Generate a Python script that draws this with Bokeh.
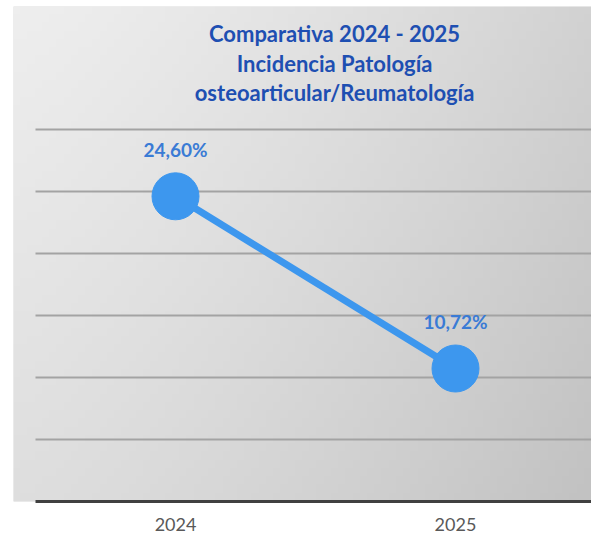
import numpy as np
from bokeh.plotting import figure
from bokeh.models import Range1d, FixedTicker, Label, ColumnDataSource, Grid
from bokeh.core.properties import value
from bokeh.embed import file_html
from bokeh.resources import INLINE

# ---- data ----
years = ["2024", "2025"]
incidence = [24.60, 10.72]
value_labels = ["24,60%", "10,72%"]
y_ticks = [0, 5, 10, 15, 20, 25, 30]
title_lines = ["Comparativa 2024 - 2025", "Incidencia Patología", "osteoarticular/Reumatología"]

xs = list(range(len(years)))

W, H = 591, 533
x0, x1 = -0.5786, 1.4857
y0, y1 = 0, 39.9

p = figure(width=W, height=H, output_backend="svg", toolbar_location=None,
           x_range=Range1d(x0, x1), y_range=Range1d(y0, y1),
           min_border_left=13, min_border_right=0, min_border_top=6, min_border_bottom=30)
p.border_fill_color = "white"
p.outline_line_color = None
p.background_fill_color = "#dddddd"

# gradient background (decoration)
ny, nx = 60, 80
fx = np.linspace(0, 1, nx)[None, :]
fy = np.linspace(0, 1, ny)[:, None]
g = (238 - 28 * fx ** 1.3 - 16 * (1 - fy)).clip(0, 255).astype(np.uint32)
img = (255 << 24) | (g << 16) | (g << 8) | g
p.image_rgba(image=[img.astype(np.uint32)], x=x0, y=y0, dw=x1 - x0, dh=y1 - y0, level="image")

# axes
p.yaxis.visible = False
p.xaxis.ticker = FixedTicker(ticks=xs)
p.xaxis.major_label_overrides = {i: y for i, y in enumerate(years)}
p.xaxis.bounds = (-0.5, x1)
p.xaxis.axis_line_color = "#404040"
p.xaxis.axis_line_width = 3
p.xaxis.major_tick_line_color = None
p.xaxis.minor_tick_line_color = None
p.xaxis.major_label_standoff = 10
p.xaxis.major_label_text_font = "Lato"
p.xaxis.major_label_text_font_size = "18px"
p.xaxis.major_label_text_color = "#595959"

p.xgrid.visible = False
p.ygrid.ticker = FixedTicker(ticks=y_ticks[1:])
p.ygrid.grid_line_color = "#a3a3a3"
p.ygrid.grid_line_width = 2
if "cross_bounds" in Grid.properties():
    p.ygrid.cross_bounds = (-0.5, x1)

src = ColumnDataSource(dict(x=xs, y=incidence, lab=value_labels))
p.line("x", "y", source=src, line_color="#3d97ee", line_width=7)
p.scatter("x", "y", source=src, size=47, fill_color="#3d97ee", line_color="#3d97ee")
p.text("x", "y", text="lab", source=src, y_offset=-47, text_align="center",
       text_baseline="middle", text_font=value("Lato"), text_font_style="bold",
       text_font_size="19px", text_color="#3a7bd5")

# title lines inside chart area (baselines in data units)
px_per_unit = 12.38
baselines_px = [33, 63, 92]
for t, b in zip(title_lines, baselines_px):
    p.add_layout(Label(x=0.568, y=(500 - b) / px_per_unit,
                       text=t, text_align="center", text_baseline="alphabetic",
                       text_font="Lato", text_font_style="bold", text_font_size="22px",
                       text_color="#1e4fb2"))

open("out.html", "w").write(file_html(p, INLINE))
